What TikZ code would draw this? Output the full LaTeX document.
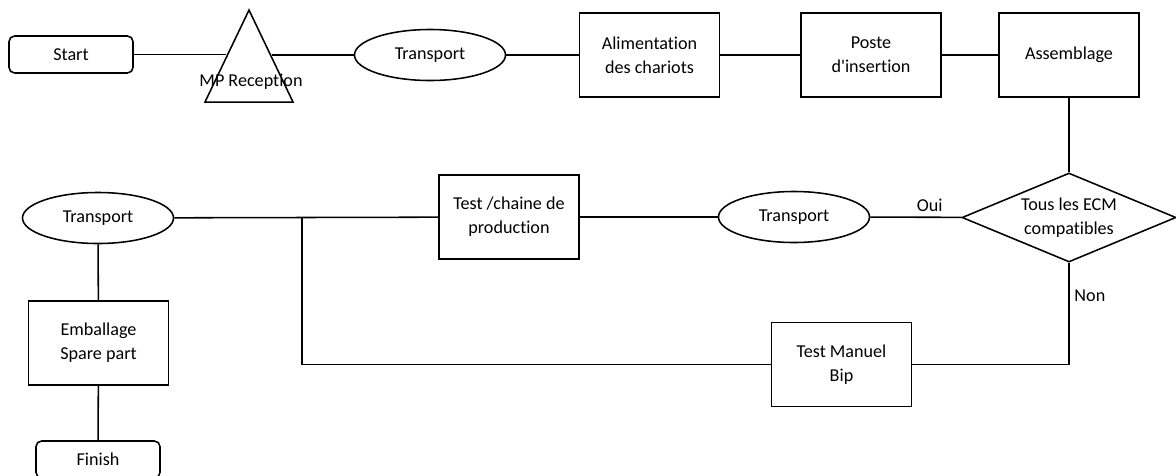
\documentclass[tikz,border=0pt]{standalone}
\usepackage{fontspec}
\setmainfont{Carlito}[Ligatures={TeXOff,NoCommon}]
\usetikzlibrary{shapes.geometric}

\begin{document}
\begin{tikzpicture}[
    x=0.025cm, y=-0.025cm,
    every node/.style={font=\fontsize{12.9}{17}\selectfont},
    line/.style={line width=1.1pt},
    box/.style={draw, line width=1.1pt, minimum width=3.5cm, minimum height=2.1cm, align=center, inner sep=2pt},
    termbox/.style={draw, line width=1.1pt, rounded corners=4pt, minimum width=3.1cm, minimum height=0.925cm, align=center},
    transbox/.style={draw, ellipse, line width=1.1pt, minimum width=3.775cm, minimum height=1.275cm, inner sep=0pt},
    recbox/.style={draw, isosceles triangle, shape border rotate=90, isosceles triangle stretches, line width=1.1pt, minimum width=2.2cm, minimum height=2.3cm, inner sep=0pt},
    decbox/.style={draw, diamond, aspect=2.4, line width=1.1pt, minimum width=5.35cm, minimum height=2.225cm, inner sep=0pt, align=center},
]

\useasboundingbox (0,0) rectangle (1176,475);

% Top row
\node[termbox] (start) at (71, 54.5) {Start};
\node[recbox, anchor=apex] (recep) at (249, 8) {};
\node (receptxt) at (251, 82) {MP Reception};
\node[transbox] (tr1) at (430, 55) {Transport};
\node[box] (alim) at (649.5, 55) {Alimentation\\des chariots};
\node[box] (poste) at (871, 55) {Poste\\d'insertion};
\node[box] (assem) at (1069, 55) {Assemblage};

\draw[line] (start) -- (start -| recep.left side);
\draw[line] (tr1 -| recep.right side) -- (tr1);
\draw[line] (tr1) -- (alim);
\draw[line] (alim) -- (poste);
\draw[line] (poste) -- (assem);

% Decision
\node[decbox] (ecm) at (1069, 217.5) {Tous les ECM\\compatibles};
\draw[line] (assem) -- (ecm);

% Middle row
\node[transbox] (tr2) at (794, 217) {Transport};
\node[box] (testch) at (509, 217) {Test /chaine de\\production};
\node[transbox] (tr3) at (98, 218) {Transport};

\draw[line] (ecm) -- node[pos=0.35, above] {Oui} (tr2);
\draw[line] (tr2) -- (testch);
\draw[line] (testch) -- (tr3);

% Manual test
\node[box] (manuel) at (841.5, 364.5) {Test Manuel\\Bip};
\coordinate (branch) at (302, 218);
\draw[line] (branch) |- (manuel);
\draw[line] (ecm.south) |- node[pos=0.16, right] {Non} (manuel);

% Packing
\node[box] (emb) at (98.5, 343) {Emballage\\Spare part};
\node[termbox] (finish) at (98, 459.5) {Finish};
\draw[line] (tr3) -- (emb);
\draw[line] (emb) -- (finish);

\end{tikzpicture}
\end{document}
